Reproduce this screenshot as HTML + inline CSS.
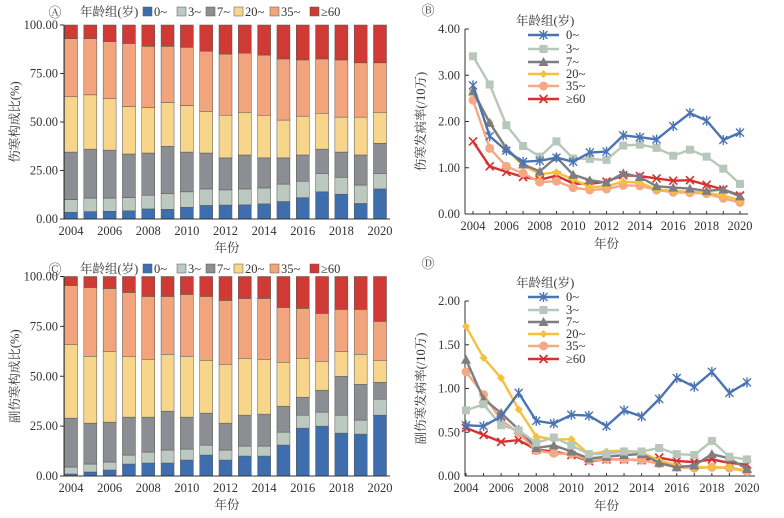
<!DOCTYPE html>
<html><head><meta charset="utf-8">
<style>
body{margin:0;background:#fff;}
svg{display:block;font-family:"Liberation Serif","Noto Serif CJK SC","Noto Sans CJK SC",serif;}
</style></head>
<body>
<svg id="chart" width="784" height="518" viewBox="0 0 784 518"></svg>
<script>
const years=[2004,2005,2006,2007,2008,2009,2010,2011,2012,2013,2014,2015,2016,2017,2018,2019,2020];
const groups=["0~","3~","7~","20~","35~","≥60"];
const barColors=["#3e6ead","#bcc9c0","#8c8e93","#f7d68c","#f2a57c","#cf3a35"];
const lineColors=["#4a74b3","#b7c7ba","#7d7e82","#f5c03e","#f4a883","#d63030"];
const markers=["star","square","triangle","diamond","circle","x"];
const yTicksPct=["0.00","25.00","50.00","75.00","100.00"];
// cumulative tops (0~,3~,7~,20~,35~) panel A
const cumA=[[3.5,10,34.5,63,93],[3.8,10.8,36,64,93],[4,10.8,35.5,62,91.5],[4.2,11,33.5,58,90.5],[5.2,12.3,34,57.5,89],[5,13,37.5,60,89],[6,14,34.5,58.5,88.5],[7,15.5,34,55.5,86.5],[7.2,15,31.5,53.5,85],[7.3,15.5,33,55,85.5],[7.8,16,31.5,53.5,84.5],[9,18,31.5,51,82.5],[11,19.5,33,53,82],[14,23.5,36,54.5,82.5],[12.8,21.5,34.5,52.5,82],[8,17.5,33,52.5,80.5],[15.5,23.5,39,55,80.5]];
const cumC=[[1,4.5,29,66,95.5],[2,6,26.5,60,94.5],[3,7,27,62.5,94],[6,10.5,29.5,60,92],[6.5,12,29.5,58.5,90],[6.5,13,32.5,61,90],[8,13.5,29.5,60,91],[10.5,15.5,31.5,58,90],[8,13,26.5,56,88],[10,15,30.5,59,89],[10,15,31,58.5,89],[15.5,22,35,57,84.5],[24,30.5,39.5,59,84],[25,32,43,57.5,81.5],[21.5,30.5,50,62.5,83.5],[21,28,46,61,83.5],[30.5,38.5,47,58,77.5]];
const B0=[2.78,1.68,1.37,1.13,1.15,1.22,1.13,1.33,1.35,1.70,1.66,1.61,1.90,2.18,2.02,1.60,1.76];
const B3=[3.41,2.80,1.92,1.47,1.24,1.57,1.20,1.19,1.17,1.48,1.50,1.43,1.26,1.39,1.24,0.98,0.65];
const B7=[2.65,1.97,1.42,1.07,0.92,1.23,0.85,0.73,0.68,0.88,0.80,0.60,0.57,0.55,0.50,0.53,0.38];
const B20=[2.67,1.98,1.40,1.05,0.86,0.90,0.75,0.58,0.60,0.70,0.68,0.53,0.50,0.48,0.46,0.40,0.30];
const B35=[2.46,1.42,1.03,0.88,0.69,0.71,0.57,0.52,0.54,0.62,0.61,0.52,0.47,0.46,0.44,0.34,0.25];
const B60=[1.57,1.03,0.91,0.80,0.74,0.83,0.66,0.65,0.70,0.84,0.82,0.77,0.72,0.73,0.63,0.53,0.40];
const D0=[0.58,0.57,0.68,0.95,0.63,0.60,0.70,0.69,0.57,0.75,0.68,0.88,1.12,1.02,1.19,0.95,1.07];
const D3=[0.75,0.82,0.58,0.52,0.38,0.44,0.35,0.25,0.25,0.28,0.28,0.32,0.25,0.24,0.40,0.22,0.19];
const D7=[1.33,0.88,0.72,0.53,0.32,0.35,0.28,0.20,0.22,0.24,0.25,0.15,0.10,0.12,0.25,0.20,0.08];
const D20=[1.71,1.35,1.12,0.76,0.45,0.42,0.42,0.25,0.28,0.29,0.27,0.18,0.12,0.10,0.10,0.10,0.06];
const D35=[1.19,0.93,0.64,0.49,0.29,0.26,0.25,0.18,0.19,0.19,0.18,0.14,0.10,0.09,0.10,0.09,0.05];
const D60=[0.55,0.47,0.39,0.41,0.30,0.28,0.24,0.17,0.19,0.19,0.18,0.21,0.17,0.16,0.19,0.15,0.13];
const yTicksB=["0.00","1.00","2.00","3.00","4.00"];
const yTicksD=["0.00","0.50","1.00","1.50","2.00"];

const svg=document.getElementById('chart');
const NS='http://www.w3.org/2000/svg';
function mk(tag,attrs,parent,name){const e=document.createElementNS(NS,tag);for(const k in attrs)e.setAttribute(k,attrs[k]);(parent||svg).appendChild(e);


return e;}
function txt(x,y,s,opt,parent,name){const t=mk('text',Object.assign({x:x,y:y,'font-size':12,fill:'#333'},opt||{}),parent,name);t.textContent=s;return t;}

function barPanel(cum,top,bot,letter,ly,ytitle,tyx,name){
  const g=mk('g',{},svg,name);
  const x0=71,step=(380-71)/16,w=13;
  const sx=i=>x0+i*step, sy=v=>bot-(v/100)*(bot-top);
  cum.forEach((c,i)=>{
    const b=[0].concat(c).concat([100]);
    for(let k=0;k<6;k++){
      const r=mk('rect',{x:sx(i)-w/2,y:sy(b[k+1]),width:w,height:sy(b[k])-sy(b[k+1]),fill:barColors[k],stroke:'#555','stroke-width':0.5},g,'bar-'+years[i]+'-group-'+k);
    }
  });
  mk('line',{x1:64,y1:top,x2:64,y2:bot,stroke:'#333','stroke-width':1},g,'y-axis');
  mk('line',{x1:64,y1:bot,x2:390,y2:bot,stroke:'#333','stroke-width':1},g,'x-axis');
  yTicksPct.forEach((t,k)=>{const y=sy(k*25);mk('line',{x1:60,y1:y,x2:64,y2:y,stroke:'#333'},g,'y-tick');txt(58,y+4,t,{'text-anchor':'end','font-size':12.5},g,'y-tick-label');});
  years.forEach((yr,i)=>{if(i%2==0)txt(sx(i),bot+16,yr,{'text-anchor':'middle','font-size':12.5},g,'x-tick-label');});
  txt(227,bot+33,'年份',{'text-anchor':'middle','font-size':12.5},g,'x-axis-title');
  txt(tyx,(top+bot)/2,ytitle,{'text-anchor':'middle','font-size':12.5,transform:'rotate(-90 '+tyx+' '+(top+bot)/2+')'},g,'y-axis-title');
  txt(55,ly-8+13,letter,{'text-anchor':'middle','font-size':13},g,'panel-label');
  const lg=mk('g',{},g,'legend');
  txt(80,ly+4,'年龄组(岁)',{'font-size':12.5},lg,'legend-title');
  const xs=[143,177,206,234,270,310];
  groups.forEach((s,k)=>{mk('rect',{x:xs[k],y:ly-5,width:9,height:9,fill:barColors[k],stroke:'#555','stroke-width':0.5},lg,'legend-swatch');txt(xs[k]+11,ly+4,s,{'font-size':12.5},lg,'legend-label');});
}
barPanel(cumA,25,219,'Ⓐ',12,'伤寒构成比(%)',19,'panel-a');
barPanel(cumC,276.5,476,'Ⓒ',269,'副伤寒构成比(%)',19,'panel-c');
// fix Ⓒ position
function marker(type,x,y,c,g){
  const s=4;
  if(type=='square')mk('rect',{x:x-s,y:y-s,width:2*s,height:2*s,fill:c},g,'marker');
  else if(type=='circle')mk('circle',{cx:x,cy:y,r:s+0.5,fill:c},g,'marker');
  else if(type=='triangle')mk('polygon',{points:`${x},${y-s-1} ${x-s-1},${y+s} ${x+s+1},${y+s}`,fill:c},g,'marker');
  else if(type=='diamond')mk('polygon',{points:`${x},${y-s} ${x+s},${y} ${x},${y+s} ${x-s},${y}`,fill:c},g,'marker');
  else if(type=='x'){mk('path',{d:`M${x-s} ${y-s}L${x+s} ${y+s}M${x-s} ${y+s}L${x+s} ${y-s}`,stroke:c,'stroke-width':1.6},g,'marker');}
  else {mk('path',{d:`M${x-s} ${y-s}L${x+s} ${y+s}M${x-s} ${y+s}L${x+s} ${y-s}M${x} ${y-s-1}L${x} ${y+s+1}`,stroke:c,'stroke-width':1.4},g,'marker');}
}
function linePanel(series,ymax,ticks,top,bot,x0,x1,letter,lx,ly,legY,ytitle,name){
  const g=mk('g',{},svg,name);
  const sx=i=>x0+i*(x1-x0)/16, sy=v=>bot-(v/ymax)*(bot-top);
  mk('line',{x1:465,y1:top,x2:465,y2:bot,stroke:'#333'},g,'y-axis');
  mk('line',{x1:465,y1:bot,x2:x1+8,y2:bot,stroke:'#333'},g,'x-axis');
  ticks.forEach((t,k)=>{const y=sy(k*ymax/4);mk('line',{x1:465,y1:y,x2:469,y2:y,stroke:'#333'},g,'y-tick');txt(460,y+4,t,{'text-anchor':'end','font-size':12.5},g,'y-tick-label');});
  years.forEach((yr,i)=>{mk('line',{x1:sx(i),y1:bot,x2:sx(i),y2:bot-3,stroke:'#333'},g,'x-tick');if(i%2==0)txt(sx(i),bot+16,yr,{'text-anchor':'middle','font-size':12.5},g,'x-tick-label');});
  txt((x0+x1)/2,bot+34,'年份',{'text-anchor':'middle','font-size':12.5},g,'x-axis-title');
  const cy=(top+bot)/2;
  txt(425,cy,ytitle,{'text-anchor':'middle','font-size':12.5,transform:'rotate(-90 425 '+cy+')'},g,'y-axis-title');
  txt(lx,ly,letter,{'text-anchor':'middle','font-size':13},g,'panel-label');
  for(let k=series.length-1;k>=0;k--){
    const sg=mk('g',{},g,'series-'+groups[k]);
    const d=series[k].map((v,i)=>(i?'L':'M')+sx(i).toFixed(1)+' '+sy(v).toFixed(1)).join('');
    mk('path',{d:d,fill:'none',stroke:lineColors[k],'stroke-width':2.4},sg,'line-'+k);
    series[k].forEach((v,i)=>marker(markers[k],sx(i),sy(v),lineColors[k],sg));
  }
  const lg=mk('g',{},g,'legend');
  txt(516,legY[0]-10,'年龄组(岁)',{'font-size':12.5},lg,'legend-title');
  groups.forEach((s,k)=>{const y=legY[k];mk('line',{x1:528,y1:y,x2:559,y2:y,stroke:lineColors[k],'stroke-width':2.4},lg,'legend-line');marker(markers[k],543.5,y,lineColors[k],lg);txt(566,y+4,s,{'font-size':12.5},lg,'legend-label');});
}
linePanel([B0,B3,B7,B20,B35,B60],4,yTicksB,29,214,473,740,'Ⓑ',428,15,[35,49,62,74,86,99],'伤寒发病率(/10万)','panel-b');
linePanel([D0,D3,D7,D20,D35,D60],2,yTicksD,301,476,466,747,'Ⓓ',428,268,[297,310,322,334,346,359],'副伤寒发病率(/10万)','panel-d');
</script>
</body></html>
